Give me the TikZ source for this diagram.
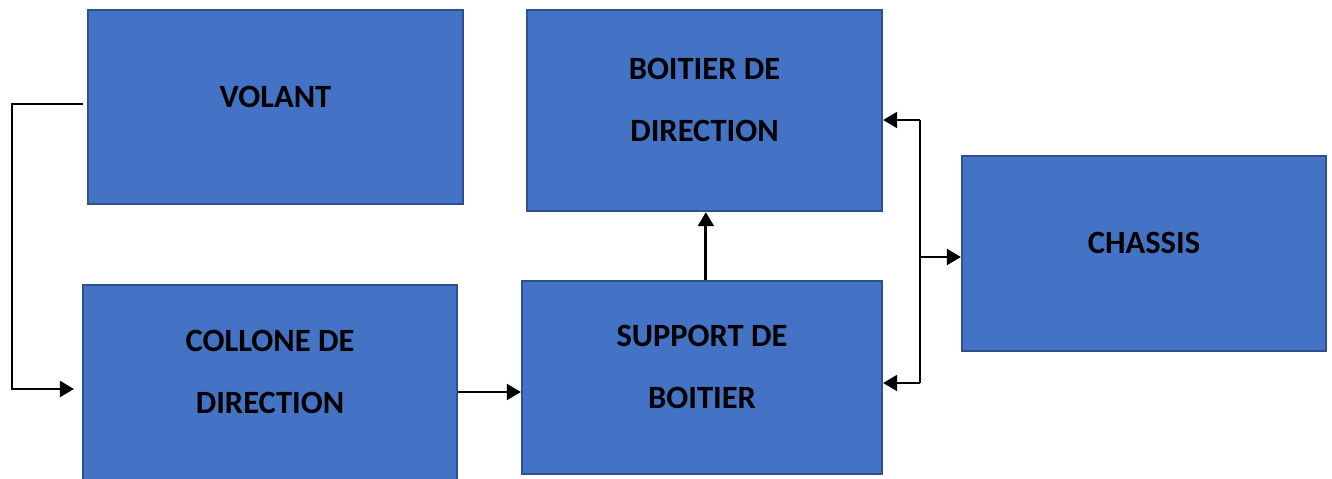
\documentclass[tikz,border=0pt]{standalone}
\usepackage{fontspec}
\setmainfont{Carlito}
\usetikzlibrary{arrows.meta}
\definecolor{boxfill}{HTML}{4472C4}
\definecolor{boxline}{HTML}{2F528F}
\begin{document}
\begin{tikzpicture}[x=0.02cm,y=-0.02cm,
   blok/.style={draw=boxline,line width=1.3pt,fill=boxfill,inner sep=0pt},
   txt/.style={font=\bfseries\fontsize{18.5}{35}\selectfont,align=center,inner sep=0pt},
   arr/.style={line width=1.6pt,-{Triangle[length=8pt,width=9pt]}}]
   \useasboundingbox (0,0) rectangle (1332,478);
   % blocks
   \node[blok,minimum width=7.5cm,minimum height=3.88cm] (volant) at (275.5,107) {};
   \node[blok,minimum width=7.1cm,minimum height=4.02cm] (boitier) at (704.5,110.5) {};
   \node[blok,minimum width=7.28cm,minimum height=3.9cm] (chassis) at (1144,253.5) {};
   \node[blok,minimum width=7.48cm,minimum height=3.9cm] (collone) at (270,382.5) {};
   \node[blok,minimum width=7.2cm,minimum height=3.86cm] (support) at (702,377.5) {};
   \node[txt] (volant-t) at (275.5,96.5) {VOLANT};
   \node[txt] (boitier-t) at (704.5,100) {BOITIER DE\\DIRECTION};
   \node[txt] (chassis-t) at (1144,243) {CHASSIS};
   \node[txt] (collone-t) at (270,372) {COLLONE DE\\DIRECTION};
   \node[txt] (support-t) at (702,367) {SUPPORT DE\\BOITIER};
   % connectors
   \coordinate (k1) at (12,389);
   \draw[arr,shorten >=4.5pt] ([xshift=-2.3pt,yshift=1.7pt]volant.west) -| (k1) -- (k1 -| collone.west);
   \draw[arr] ([yshift=-5.4pt]collone.east) -- ([yshift=-5.4pt]collone.east -| support.west);
   \draw[arr] ([xshift=2.2pt]support.north) -- ([xshift=2.2pt]support.north |- boitier.south);
   \coordinate (b1) at (920,120);
   \coordinate (b2) at (920,383);
   \coordinate (b3) at (920,257);
   \draw[line width=1.6pt] (b1) -- (b2);
   \draw[arr] (b1) -- (b1 -| boitier.east);
   \draw[arr] (b2) -- (b2 -| support.east);
   \draw[arr] (b3) -- (b3 -| chassis.west);
\end{tikzpicture}
\end{document}
